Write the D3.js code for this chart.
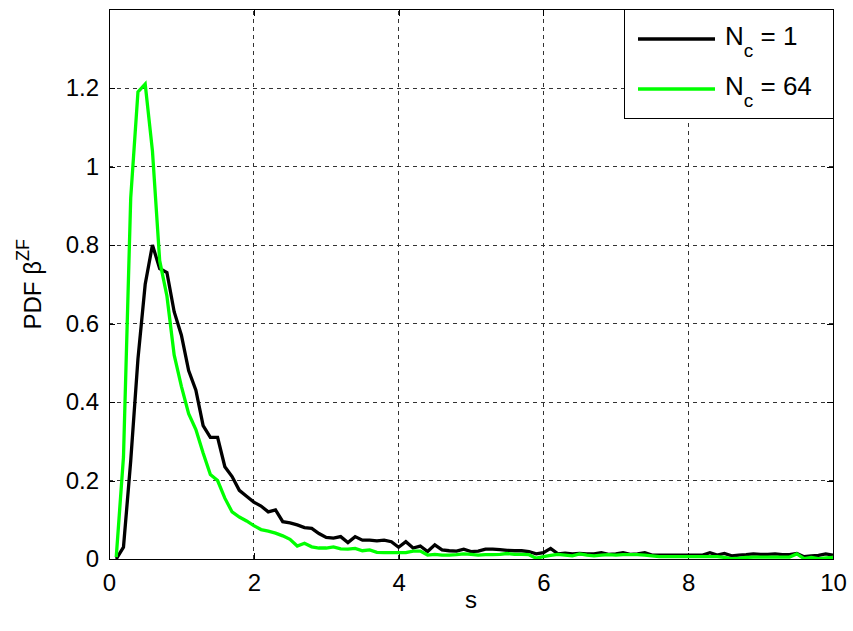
<!DOCTYPE html>
<html>
<head>
<meta charset="utf-8">
<script src="https://cdn.jsdelivr.net/npm/d3@7/dist/d3.min.js"></script>
<style>
  html, body { margin: 0; padding: 0; background: #fff; }
  svg { display: block; font-family: "Liberation Sans", Arial, sans-serif; }
</style>
</head>
<body>
<svg id="chart" width="853" height="631"></svg>
<script>
// Sample positions s (bin centres)
const sValues = [
  0.1, 0.2, 0.3, 0.4, 0.5, 0.6, 0.7, 0.8, 0.9, 1.0,
  1.1, 1.2, 1.3, 1.4, 1.5, 1.6, 1.7, 1.8, 1.9, 2.0,
  2.1, 2.2, 2.3, 2.4, 2.5, 2.6, 2.7, 2.8, 2.9, 3.0,
  3.1, 3.2, 3.3, 3.4, 3.5, 3.6, 3.7, 3.8, 3.9, 4.0,
  4.1, 4.2, 4.3, 4.4, 4.5, 4.6, 4.7, 4.8, 4.9, 5.0,
  5.1, 5.2, 5.3, 5.4, 5.5, 5.6, 5.7, 5.8, 5.9, 6.0,
  6.1, 6.2, 6.3, 6.4, 6.5, 6.6, 6.7, 6.8, 6.9, 7.0,
  7.1, 7.2, 7.3, 7.4, 7.5, 7.6, 7.7, 7.8, 7.9, 8.0,
  8.1, 8.2, 8.3, 8.4, 8.5, 8.6, 8.7, 8.8, 8.9, 9.0,
  9.1, 9.2, 9.3, 9.4, 9.5, 9.6, 9.7, 9.8, 9.9, 10.0
];

// Empirical PDF of beta^ZF, N_c = 1
const pdfNc1 = [
  0.000, 0.030, 0.250, 0.510, 0.700, 0.800, 0.740, 0.730, 0.630, 0.570,
  0.480, 0.430, 0.340, 0.310, 0.310, 0.235, 0.210, 0.175, 0.160, 0.145,
  0.135, 0.120, 0.125, 0.095, 0.092, 0.087, 0.080, 0.078, 0.065, 0.055,
  0.053, 0.057, 0.042, 0.057, 0.048, 0.048, 0.046, 0.048, 0.044, 0.030,
  0.044, 0.028, 0.033, 0.019, 0.036, 0.023, 0.021, 0.020, 0.025, 0.019,
  0.020, 0.025, 0.025, 0.024, 0.022, 0.021, 0.021, 0.019, 0.013, 0.016,
  0.027, 0.013, 0.015, 0.013, 0.014, 0.013, 0.013, 0.016, 0.012, 0.013,
  0.016, 0.012, 0.013, 0.016, 0.010, 0.010, 0.010, 0.010, 0.010, 0.010,
  0.010, 0.010, 0.016, 0.010, 0.014, 0.008, 0.010, 0.011, 0.013, 0.012,
  0.012, 0.013, 0.011, 0.011, 0.014, 0.006, 0.008, 0.009, 0.013, 0.010
];

// Empirical PDF of beta^ZF, N_c = 64
const pdfNc64 = [
  0.005, 0.260, 0.920, 1.190, 1.210, 1.040, 0.760, 0.670, 0.520, 0.440,
  0.370, 0.330, 0.270, 0.215, 0.200, 0.155, 0.120, 0.107, 0.097, 0.085,
  0.075, 0.071, 0.066, 0.059, 0.050, 0.033, 0.040, 0.031, 0.028, 0.028,
  0.031, 0.026, 0.025, 0.027, 0.021, 0.023, 0.017, 0.016, 0.016, 0.016,
  0.016, 0.020, 0.020, 0.010, 0.012, 0.010, 0.010, 0.011, 0.013, 0.012,
  0.010, 0.011, 0.011, 0.012, 0.014, 0.012, 0.012, 0.011, 0.002, 0.006,
  0.009, 0.012, 0.010, 0.008, 0.013, 0.010, 0.008, 0.010, 0.011, 0.010,
  0.011, 0.011, 0.011, 0.010, 0.008, 0.006, 0.006, 0.006, 0.006, 0.006,
  0.006, 0.006, 0.006, 0.006, 0.004, 0.001, 0.002, 0.004, 0.005, 0.005,
  0.005, 0.005, 0.005, 0.005, 0.013, 0.001, 0.004, 0.001, 0.003, 0.004
];

const xTicks = [0, 2, 4, 6, 8, 10];
const yTicks = [0, 0.2, 0.4, 0.6, 0.8, 1, 1.2];
const xDomain = [0, 10];
const yDomain = [0, 1.4];

const series = [
  { name: "1", values: pdfNc1, color: "#000000" },
  { name: "64", values: pdfNc64, color: "#00ff00" }
];

const margin = { left: 109, right: 20, top: 9.5, bottom: 72 };
const W = 853, H = 631;
const svg = d3.select("#chart");
svg.append("rect").attr("width", W).attr("height", H).attr("fill", "#fff");

const x = d3.scaleLinear().domain(xDomain).range([margin.left, W - margin.right]);
const y = d3.scaleLinear().domain(yDomain).range([H - margin.bottom, margin.top]);
const x0 = x.range()[0], x1 = x.range()[1], y0 = y.range()[0], y1 = y.range()[1];

// dashed grid
const grid = svg.append("g").attr("stroke", "#333").attr("stroke-width", 1)
  .attr("stroke-dasharray", "4,4").attr("shape-rendering", "crispEdges");
grid.selectAll("line.gx").data(xTicks.slice(1, -1)).join("line")
  .attr("x1", d => x(d)).attr("x2", d => x(d)).attr("y1", y0).attr("y2", y1);
grid.selectAll("line.gy").data(yTicks.slice(1)).join("line")
  .attr("y1", d => y(d)).attr("y2", d => y(d)).attr("x1", x0).attr("x2", x1);

// axes (ticks pointing inward)
const fontSize = 24;
const axB = svg.append("g").attr("transform", `translate(0,${y0})`)
  .call(d3.axisBottom(x).tickValues(xTicks).tickSize(-6).tickPadding(15).tickFormat(d3.format("d")));
const axL = svg.append("g").attr("transform", `translate(${x0},0)`)
  .call(d3.axisLeft(y).tickValues(yTicks).tickSize(-6).tickPadding(10).tickFormat(d => d3.format("")(+d.toFixed(1))));
const axT = svg.append("g").attr("transform", `translate(0,${y1})`)
  .call(d3.axisTop(x).tickValues(xTicks).tickSize(-6).tickFormat(""));
const axR = svg.append("g").attr("transform", `translate(${x1},0)`)
  .call(d3.axisRight(y).tickValues(yTicks).tickSize(-6).tickFormat(""));
[axB, axL, axT, axR].forEach(a => {
  a.select(".domain").remove();
  a.selectAll("line").attr("stroke", "#000").attr("shape-rendering", "crispEdges");
  a.selectAll("text").attr("font-size", fontSize).attr("fill", "#000")
    .attr("font-family", "'Liberation Sans', Arial, sans-serif");
});

// frame
svg.append("rect").attr("x", x0).attr("y", y1).attr("width", x1 - x0).attr("height", y0 - y1)
  .attr("fill", "none").attr("stroke", "#000").attr("stroke-width", 1).attr("shape-rendering", "crispEdges");

// curves
svg.append("clipPath").attr("id", "plotclip").append("rect")
  .attr("x", x0).attr("y", y1).attr("width", x1 - x0).attr("height", y0 - y1);
const line = d3.line().x((d, i) => x(sValues[i])).y(d => y(d));
svg.append("g").attr("clip-path", "url(#plotclip)")
  .selectAll("path").data(series).join("path")
  .attr("d", d => line(d.values))
  .attr("fill", "none").attr("stroke", d => d.color).attr("stroke-width", 3.3)
  .attr("stroke-linejoin", "miter").attr("stroke-miterlimit", 4);

// axis labels
svg.append("text").attr("x", (x0 + x1) / 2).attr("y", 608).attr("text-anchor", "middle")
  .attr("font-size", fontSize).text("s");
const yl = svg.append("text").attr("transform", `translate(41,${(y0 + y1) / 2}) rotate(-90)`)
  .attr("text-anchor", "middle").attr("font-size", fontSize);
yl.append("tspan").text("PDF \u03B2");
yl.append("tspan").attr("dy", -12).attr("font-size", 18).text("ZF");

// legend
const lg = svg.append("g");
lg.append("rect").attr("x", 624).attr("y", y1).attr("width", x1 - 624).attr("height", 108.5)
  .attr("fill", "#fff").attr("stroke", "#000").attr("stroke-width", 1).attr("shape-rendering", "crispEdges");
series.forEach((s, i) => {
  const cy = 39 + i * 50;
  lg.append("line").attr("x1", 638).attr("x2", 715).attr("y1", cy).attr("y2", cy)
    .attr("stroke", s.color).attr("stroke-width", 3.3);
  const t = lg.append("text").attr("x", 725).attr("y", cy + 6).attr("font-size", 26);
  t.append("tspan").text("N");
  t.append("tspan").attr("dy", 12).attr("font-size", 19).text("c");
  t.append("tspan").attr("dy", -12).text(" = " + s.name);
});
</script>
</body>
</html>
